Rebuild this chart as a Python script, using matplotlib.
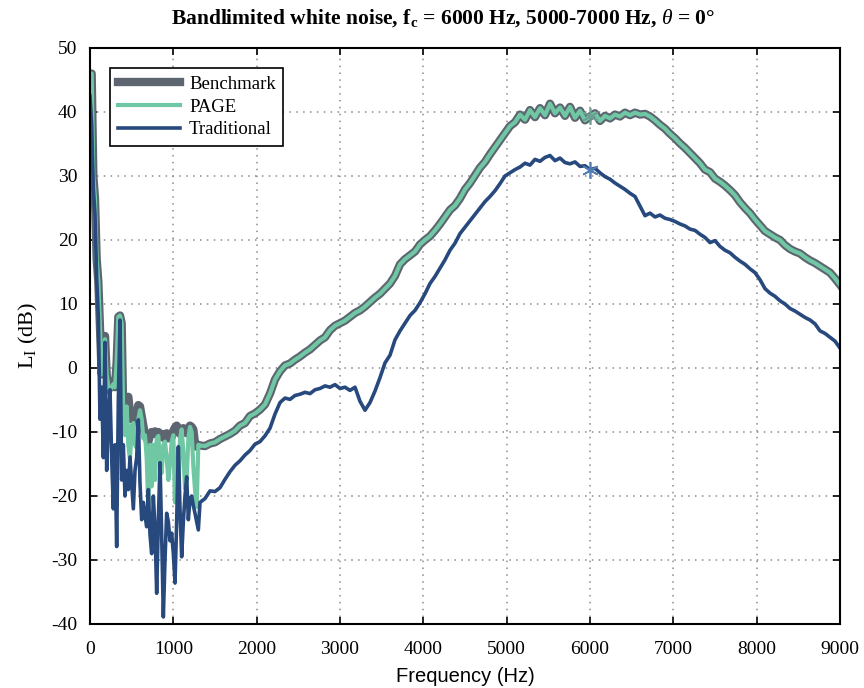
import numpy as np
import matplotlib
matplotlib.use('Agg')
import matplotlib.pyplot as plt

plt.rcParams['font.family'] = ['Liberation Serif', 'DejaVu Sans']
plt.rcParams['mathtext.fontset'] = 'custom'
plt.rcParams['mathtext.rm'] = 'Liberation Serif'
plt.rcParams['mathtext.it'] = 'Liberation Serif:italic'
plt.rcParams['mathtext.bf'] = 'Liberation Serif:bold'
plt.rcParams['axes.unicode_minus'] = False

#%% data
f_low = np.arange(0, 1301, 20)
bench_low = [46, 46, 30, 26.5, 17, 13.5, 6, -1, 1, 5,
             -1, -3.5, -3, -2.5, -2, -3, 1, 8, 8.2, 7,
             -8, -9, -5, -4.5, -7, -8, -7.5, -8.5, -7, -5.8,
             -6, -7.5, -9, -10.5, -11, -11.5, -10.5, -10, -10.2, -9.9,
             -10.4, -10, -10.8, -10.3, -10.9, -10.6, -10.2, -11, -10.5, -10.8,
             -9.8, -9.3, -9, -9.4, -10.3, -10, -9.4, -9.8, -10.2, -9.5,
             -9, -9.2, -9.6, -11.8, -12.3, -12]
page_low = [46, 46, 30, 26.5, 17, 13.5, 6, -1, 1, 4.5,
            -1, -3, -3.5, -3, -2.5, -3, 1, 8, 8.2, 7,
            -8, -10.5, -6, -12, -14.4, -9, -8.6, -12, -12.5, -8,
            -6.6, -8, -11, -10.5, -14, -21.7, -12, -18.5, -12, -17.5,
            -11, -10.6, -14.5, -16.4, -12, -11.5, -14, -17.5, -15, -11.5,
            -10.5, -21, -14, -20.1, -11, -9.6, -13, -18.8, -17.5, -11,
            -9.2, -10, -15.4, -19, -21.7, -12]
trad_low = [42.5, 38, 28, 24, 14, 8, -8, -3, -14, 4,
            -16, -8, -3.4, -14, -22, -12, -27.9, -5, 7.5, -17.5,
            -12, -20, -16, -19, -13.9, -18, -22, -16, -14, -8.1,
            -18, -23.7, -21, -23, -24.8, -19, -26, -29, -20, -25,
            -35.2, -24, -14.8, -26, -38.9, -30, -22.7, -24, -27, -25.8,
            -29, -33.6, -24, -12.3, -22, -29.5, -24, -20, -17, -23.7,
            -20.5, -20, -21.5, -22.7, -24, -25.3]

f_high = np.arange(1320, 9001, 60)
bench_high = [-12.1, -12.2, -11.8, -11.6, -11.1, -10.7, -10.3, -9.8, -9.0, -8.6,
              -7.5, -7.1, -6.5, -5.7, -4.0, -1.8, -0.5, 0.4, 0.7, 1.3,
              1.8, 2.4, 2.9, 3.6, 4.3, 4.8, 5.9, 6.6, 7.0, 7.4,
              8.0, 8.6, 9.0, 9.6, 10.3, 11.0, 11.6, 12.4, 13.2, 14.4,
              16.2, 17.0, 17.6, 18.2, 19.3, 20.0, 20.6, 21.5, 22.5, 23.6,
              24.7, 25.4, 26.5, 27.9, 28.9, 30.1, 31.3, 32.2, 33.4, 34.5,
              35.6, 36.7, 37.8, 38.4, 39.6, 38.8, 40.3, 39.2, 40.6, 39.5,
              41.3, 39.8, 40.7, 39.4, 40.8, 39.1, 40.2, 38.7, 39.3, 39.8,
              38.6, 39.4, 39.0, 39.6, 39.3, 39.9, 39.5, 39.9, 39.6, 39.7,
              39.3, 38.7, 38.0, 37.4, 36.6, 35.9, 35.1, 34.4, 33.6, 32.8,
              32.0, 31.0, 30.6, 29.6, 29.1, 28.5, 27.8, 27.0, 25.9, 25.0,
              24.2, 23.2, 22.3, 21.4, 20.9, 20.4, 20.0, 19.2, 18.6, 18.2,
              17.9, 17.3, 16.8, 16.4, 15.9, 15.4, 14.9, 14.0, 13.0]
trad_high = [-21.0, -20.4, -19.2, -19.3, -18.7, -17.4, -16.2, -15.2, -14.5, -13.6,
             -12.9, -11.9, -11.5, -10.6, -9.4, -7.2, -5.4, -4.7, -4.9, -4.3,
             -4.1, -3.8, -4.0, -3.4, -3.2, -2.8, -3.0, -2.6, -3.2, -3.0,
             -3.5, -3.0, -5.2, -6.6, -5.4, -3.6, -1.5, 0.8, 2.0, 4.4,
             5.8, 7.0, 8.2, 9.0, 10.2, 11.6, 13.2, 14.3, 15.6, 16.9,
             18.4, 19.5, 21.0, 22.0, 23.0, 24.0, 25.0, 26.0, 26.8, 27.7,
             28.8, 30.0, 30.5, 31.0, 31.4, 32.0, 31.7, 32.6, 32.3, 32.9,
             33.2, 32.4, 32.8, 32.1, 31.9, 32.2, 31.5, 31.6, 31.0, 31.2,
             30.5, 29.9, 29.5, 28.9, 28.4, 27.9, 27.3, 26.8, 25.3, 23.8,
             24.2, 23.6, 23.9, 23.4, 23.2, 22.9, 22.5, 22.2, 21.7, 21.5,
             20.9, 20.4, 19.6, 19.9, 19.0, 18.4, 18.0, 17.3, 16.7, 16.2,
             15.5, 14.9, 13.8, 12.4, 11.7, 11.2, 10.5, 10.0, 9.3, 8.9,
             8.4, 7.9, 7.5, 6.9, 5.8, 5.4, 4.8, 4.2, 3.1]

f_mark = 6000
xticks = np.arange(0, 9001, 1000)
yticks = np.arange(-40, 51, 10)

#%%
freq = np.concatenate([f_low, f_high])
bench = np.concatenate([bench_low, bench_high])
page = np.concatenate([page_low, bench_high])
trad = np.concatenate([trad_low, trad_high])
i_mark = np.argmin(np.abs(freq - f_mark))

fig = plt.figure(figsize=(8.64, 6.88), dpi=100)
ax = fig.add_axes([90/864, 1-624/688, 750/864, 576/688])

ax.plot(freq, bench, color='#5d6570', lw=6, solid_joinstyle='round', label='Benchmark')
ax.plot(freq, page, color='#6fc7a3', lw=3, solid_joinstyle='round', label='PAGE')
ax.plot(freq, trad, color='#27497d', lw=2.6, solid_joinstyle='round', label='Traditional')
ax.plot(freq[i_mark], page[i_mark], marker=(6, 2, 0), ms=12, mew=1.2, color='#6d9e92', ls='none')
ax.plot(freq[i_mark], trad[i_mark], marker=(6, 2, 0), ms=12, mew=1.2, color='#4f7db3', ls='none')

ax.set_xlim(0, 9000)
ax.set_ylim(-40, 50)
ax.set_xticks(xticks)
ax.set_yticks(yticks)
ax.grid(True, ls=(0, (1, 3.5)), color='#8a8a8a', lw=1.1)
ax.tick_params(direction='in', top=True, right=True, length=5, width=1.2, labelsize=14, pad=9)
ax.tick_params(axis='x', pad=12)
for s in ax.spines.values():
    s.set_linewidth(1.5)

ax.set_xlabel('Frequency (Hz)', family=['Liberation Sans', 'DejaVu Sans'], fontsize=14.5, labelpad=7)
ax.set_ylabel(r'L$_\mathrm{I}$ (dB)', fontsize=16, labelpad=8)
fig.text(443/864, 1-18/688, r'Bandlimited white noise, f$_\mathbf{c}$ = 6000 Hz, 5000-7000 Hz, $\theta$ = 0°',
         ha='center', va='center', fontsize=15.5, fontweight='bold')

leg = ax.legend(loc='upper left', bbox_to_anchor=(0.027, 0.965), borderaxespad=0, fontsize=13.5,
                fancybox=False, edgecolor='black', framealpha=1, handlelength=3.3,
                borderpad=0.4, labelspacing=0.3, handletextpad=0.5)
leg.get_frame().set_linewidth(1.2)

fig.savefig('out.png', dpi=100)
